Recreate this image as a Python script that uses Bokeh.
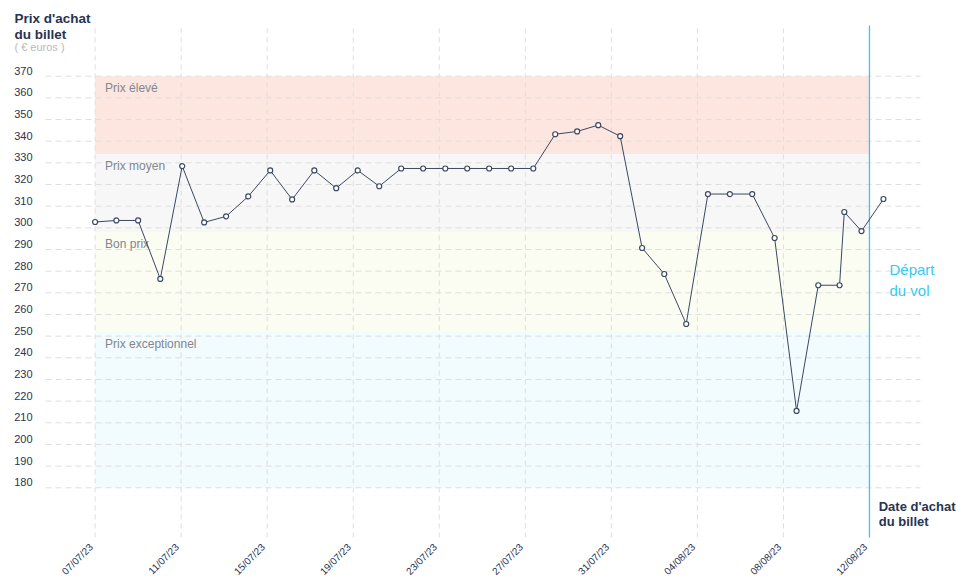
import math
from bokeh.plotting import figure
from bokeh.models import Range1d, ColumnDataSource
from bokeh.core.properties import value
from bokeh.embed import file_html
from bokeh.resources import INLINE

# ---------------- data ----------------
# purchase date, in days after 07/07/23
day_offsets = [0.0, 0.99, 2.0, 3.03, 4.05, 5.07, 6.09, 7.12, 8.14, 9.16,
               10.19, 11.21, 12.21, 13.21, 14.23, 15.25, 16.28, 17.3, 18.32, 19.34,
               20.37, 21.39, 22.41, 23.39, 24.41, 25.43, 26.46, 27.48, 28.49, 29.51,
               30.55, 31.59, 32.61, 33.62, 34.61, 34.83, 35.63, 36.65]
# ticket price (euros)
prices = [302.7, 303.4, 303.4, 276.4, 328.5, 302.5, 305.3, 314.5, 326.5, 313.1,
          326.5, 318.3, 326.5, 319.2, 327.4, 327.4, 327.4, 327.4, 327.4, 327.4,
          327.4, 343.2, 344.5, 347.4, 342.3, 290.7, 278.7, 255.6, 315.6, 315.6,
          315.6, 295.3, 215.5, 273.5, 273.5, 307.3, 298.5, 313.3]

tick_days = [0, 4, 8, 12, 16, 20, 24, 28, 32, 36]
tick_labels = ["07/07/23", "11/07/23", "15/07/23", "19/07/23", "23/07/23",
               "27/07/23", "31/07/23", "04/08/23", "08/08/23", "12/08/23"]
y_ticks = [180, 190, 200, 210, 220, 230, 240, 250, 260, 270,
           280, 290, 300, 310, 320, 330, 340, 350, 360, 370]
y_tick_labels = [str(t) for t in y_ticks]

band_names = ["Prix élevé", "Prix moyen", "Bon prix", "Prix exceptionnel"]
band_bottom = [334, 298, 252, 180]
band_top = [370, 334, 298, 252]
band_colors = ["#fee6e0", "#f7f7f8", "#fbfcf2", "#f2fbfe"]
departure_day = 36

# ---------------- figure ----------------
FONT = "Liberation Sans"
DARK = "#27344f"
W, H = 956, 583
X0, X1 = -4.398, 40.046          # whole canvas, in days
Y0, Y1 = 135.82, 404.94          # whole canvas, in euros
GX0, GX1 = -2.306, 38.37         # extent of the grid area
GY0, GY1 = 157.1, 393.4

p = figure(width=W, height=H, x_range=Range1d(X0, X1), y_range=Range1d(Y0, Y1),
           output_backend="svg", toolbar_location=None,
           x_axis_location=None, y_axis_location=None,
           min_border=0, min_border_left=0, min_border_right=0,
           min_border_top=0, min_border_bottom=0)
p.outline_line_color = None
p.background_fill_color = "white"
p.border_fill_color = "white"
for g in p.grid:
    g.visible = False

# bands
bsrc = ColumnDataSource(dict(left=[day_offsets[0]] * 4, right=[departure_day] * 4,
                             bottom=band_bottom, top=band_top, color=band_colors,
                             name=band_names))
p.quad(left="left", right="right", bottom="bottom", top="top", fill_color="color",
       line_color=None, source=bsrc)

# grid
GRID_COLOR = "#dedede"
p.segment(x0=[GX0] * len(y_ticks), x1=[GX1] * len(y_ticks), y0=y_ticks, y1=y_ticks,
          line_color=GRID_COLOR, line_dash="6 4", line_width=1)
p.segment(x0=tick_days, x1=tick_days, y0=[GY0] * len(tick_days), y1=[GY1] * len(tick_days),
          line_color=GRID_COLOR, line_dash="5 4", line_width=1)

# band labels
p.text(x="left", y="top", text="name", source=bsrc, x_offset=10, y_offset=5,
       text_baseline="top", text_font=value(FONT), text_font_size="12px",
       text_color="#80868f")

# departure line
p.segment(x0=[departure_day], x1=[departure_day], y0=[GY0], y1=[GY1],
          line_color="#36c8f0", line_width=1.3)

# price series
LINE = "#3b4860"
p.line(day_offsets, prices, line_color=LINE, line_width=1)
p.scatter(day_offsets, prices, size=5, fill_color="white", line_color=LINE, line_width=1.2)

# axis tick labels
p.text(x=[GX0] * len(y_ticks), y=y_ticks, text=y_tick_labels, x_offset=-13, y_offset=-5.6,
       text_align="right", text_baseline="middle", text_font=value(FONT),
       text_font_size="11px", text_color=DARK)
p.text(x=tick_days, y=[GY0] * len(tick_days), text=tick_labels, angle=math.pi / 4,
       x_offset=-4, y_offset=8, text_align="right", text_baseline="middle",
       text_font=value(FONT), text_font_size="10px", text_color=DARK)

# other texts
def lab(text, x, y, size, color, style="normal"):
    p.text(x=[x], y=[y], text=[text], text_font=value(FONT), text_font_size=size,
           text_color=color, text_font_style=style, text_baseline="middle",
           text_align="left")

lab("Prix d'achat", -3.75, 396.6, "13.5px", DARK, "bold")
lab("du billet", -3.75, 389.2, "13.5px", DARK, "bold")
lab("( € euros )", -3.75, 383.6, "11px", "#b9b9b9")
lab("Date d'achat", 36.43, 171.4, "13px", DARK, "bold")
lab("du billet", 36.43, 164.4, "13px", DARK, "bold")
lab("Départ", 36.93, 280.8, "15px", "#38c9f2")
lab("du vol", 36.93, 271.1, "15px", "#38c9f2")

open("out.html", "w").write(file_html(p, INLINE))
